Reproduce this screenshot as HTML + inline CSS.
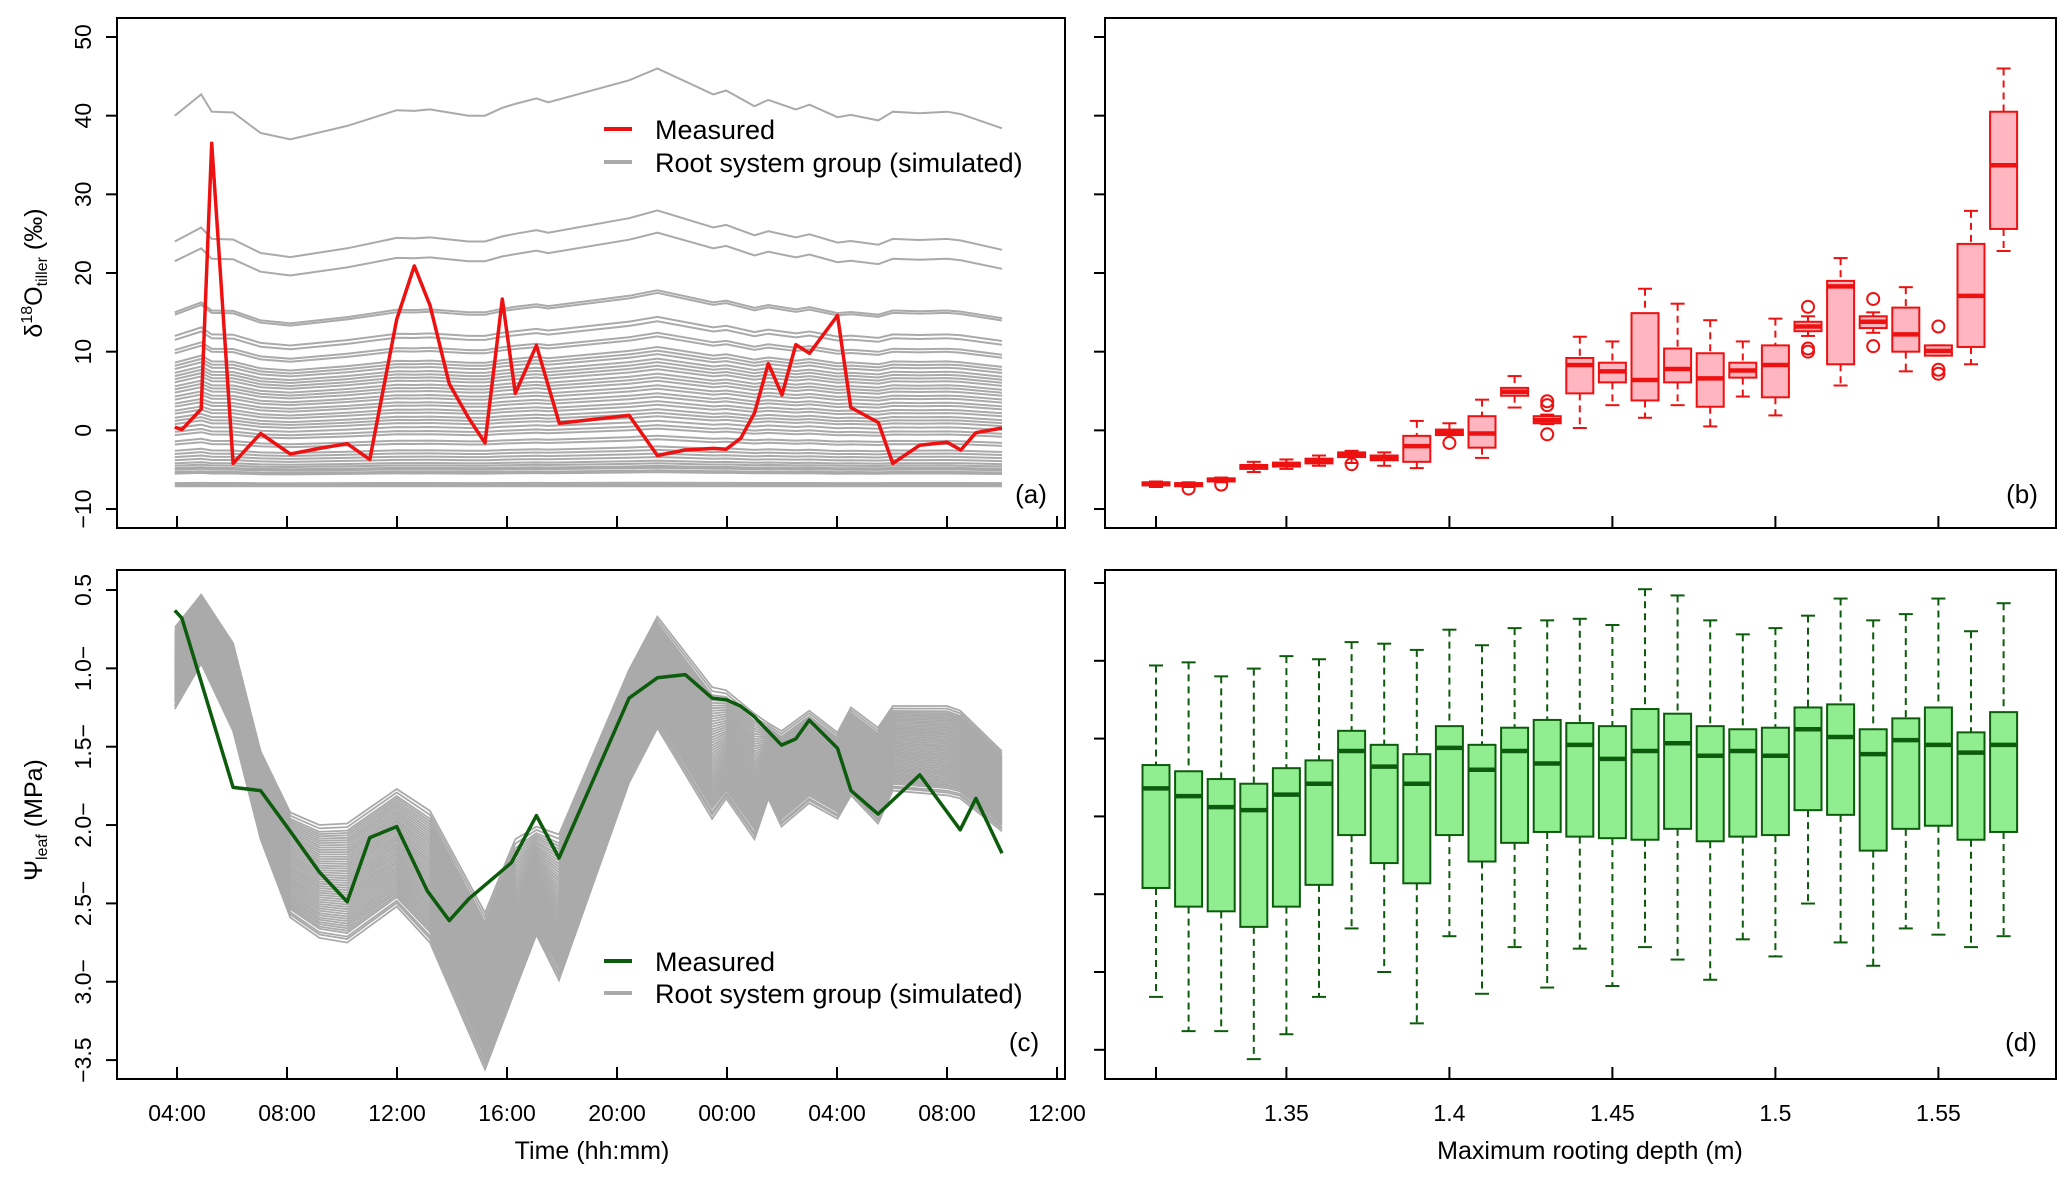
<!DOCTYPE html>
<html><head><meta charset="utf-8"><style>
html,body{margin:0;padding:0;background:#fff;}
svg{display:block;font-family:"Liberation Sans",Arial,sans-serif;}
</style></head><body>
<svg id="fig" width="2067" height="1181" viewBox="0 0 2067 1181" xmlns="http://www.w3.org/2000/svg">
<g id="pa"></g>
<g id="pb"></g>
<g id="pc"></g>
<g id="pd"></g>
</svg>
<script>
// ---------- Panel (a) data ----------
const aMeasHours=[-0.08,0.18,0.88,1.26,2.04,3.04,4.12,5.18,6.19,7.01,7.99,8.63,9.2,9.9,10.6,11.2,11.83,12.3,13.07,13.9,16.44,17.47,18.48,19.5,19.97,20.5,21.0,21.5,22.0,22.5,23.0,24.02,24.5,25.5,26.03,27.0,28.0,28.5,29.05,30.0];
const aMeasVals=[0.4,0.1,2.7,36.5,-4.2,-0.4,-3.0,-2.3,-1.7,-3.7,14.1,20.9,15.9,5.9,1.6,-1.6,16.7,4.7,10.8,0.9,1.9,-3.2,-2.5,-2.3,-2.4,-1.0,2.2,8.5,4.5,10.9,9.8,14.6,2.9,1.0,-4.2,-1.9,-1.5,-2.5,-0.3,0.3];
const aBaseHours=[-0.08,0.88,1.26,2.04,3.04,4.12,6.19,7.99,8.63,9.2,10.6,11.2,11.83,12.3,13.07,13.5,16.44,17.47,19.5,19.97,21.0,21.5,22.5,23.0,24.02,24.5,25.5,26.03,27.0,28.0,28.5,30.0];
const aBaseVals=[40,42.7,40.5,40.4,37.8,37.0,38.7,40.7,40.6,40.8,40,40,41,41.5,42.2,41.7,44.5,46,42.7,43.2,41.2,42,40.8,41.4,39.8,40.1,39.4,40.5,40.3,40.5,40.2,38.4];
const aSimStarts=[40,24,21.5,15,14.7,12,11.5,10.2,9.8,8.6,8.2,7.8,7.3,6.9,6.5,6.1,5.6,5.2,4.8,4.3,3.9,3.4,3.0,2.5,2.1,1.6,1.2,0.8,0.3,-0.2,-0.6,-1.4,-1.8,-2.6,-3.0,-3.4,-3.8,-4.2,-4.5,-4.8,-5.0,-5.3,-5.5,-6.7,-6.9,-7.1];
const aYTicks=[-10,0,10,20,30,40,50];
const aYLabels=["\u221210","0","10","20","30","40","50"];
const xTickHours=[0,4,8,12,16,20,24,28,32];
const xTickLabels=["04:00","08:00","12:00","16:00","20:00","00:00","04:00","08:00","12:00"];

// ---------- Panel (b) data ----------
const bDepths=[1.31,1.32,1.33,1.34,1.35,1.36,1.37,1.38,1.39,1.40,1.41,1.42,1.43,1.44,1.45,1.46,1.47,1.48,1.49,1.50,1.51,1.52,1.53,1.54,1.55,1.56,1.57];
const bWhiskLow=[-7.2,-7.2,-6.6,-5.3,-4.9,-4.5,-4.15,-4.5,-4.8,-0.6,-3.5,2.9,0.8,0.3,3.2,1.6,3.2,0.5,4.3,1.9,12.0,5.7,12.4,7.5,9.5,8.4,22.8];
const bQ1=[-7.0,-7.1,-6.5,-4.9,-4.6,-4.2,-3.4,-3.8,-4.0,-0.6,-2.2,4.4,0.9,4.7,6.1,3.8,6.1,3.0,6.7,4.2,12.6,8.4,13.0,10.0,9.5,10.6,25.6];
const bMedian=[-6.8,-6.9,-6.3,-4.65,-4.4,-3.9,-3.1,-3.5,-2.0,-0.3,-0.4,4.9,1.3,8.3,7.5,6.4,7.8,6.6,7.6,8.3,13.2,18.3,13.8,12.2,10.1,17.1,33.7];
const bQ3=[-6.6,-6.7,-6.1,-4.4,-4.1,-3.6,-2.8,-3.2,-0.7,0.1,1.8,5.4,1.8,9.2,8.6,14.9,10.4,9.8,8.6,10.8,13.8,19.0,14.5,15.6,10.8,23.7,40.5];
const bWhiskHigh=[-6.5,-6.6,-6.0,-4.0,-3.7,-3.2,-2.6,-2.8,1.2,0.9,3.9,6.9,2.0,11.9,11.3,18.0,16.1,14.0,11.3,14.2,14.5,21.9,15.0,18.2,10.8,27.9,46.0];
const bOutlierDepth=[1.32,1.33,1.37,1.40,1.43,1.43,1.43,1.51,1.51,1.51,1.53,1.53,1.55,1.55,1.55];
const bOutlierVal=[-7.4,-6.9,-4.3,-1.6,-0.5,3.2,3.7,15.7,10.4,10.0,16.7,10.7,13.2,7.7,7.2];
const depthTicks=[1.31,1.35,1.40,1.45,1.50,1.55];
const depthLabels=["","1.35","1.4","1.45","1.5","1.55"];

// ---------- Panel (c) data ----------
const cMeasHours=[-0.08,0.18,2.04,3.04,4.12,5.18,6.19,7.01,7.99,9.1,9.9,10.62,12.16,13.07,13.89,16.44,17.47,18.48,19.46,19.97,20.49,21.0,21.98,22.5,22.99,24.02,24.51,25.49,27.01,28.48,29.05,30.0];
const cMeasVals=[-0.63,-0.68,-1.76,-1.78,-2.04,-2.30,-2.49,-2.08,-2.01,-2.42,-2.61,-2.47,-2.24,-1.94,-2.21,-1.19,-1.06,-1.04,-1.19,-1.20,-1.24,-1.31,-1.49,-1.45,-1.33,-1.51,-1.78,-1.93,-1.68,-2.03,-1.83,-2.18];
const cSimHours=[-0.08,0.88,2.04,3.04,4.12,5.18,6.19,7.99,9.2,11.2,12.3,13.07,13.89,16.44,17.47,19.46,19.97,21.0,21.5,21.98,22.99,24.02,24.51,25.49,26.03,28.0,28.48,30.0];
const cSimUpper=[-0.74,-0.53,-0.84,-1.53,-1.92,-2.00,-1.99,-1.77,-1.91,-2.56,-2.09,-2.01,-2.06,-1.01,-0.67,-1.12,-1.14,-1.29,-1.35,-1.40,-1.27,-1.41,-1.25,-1.38,-1.24,-1.24,-1.27,-1.53];
const cSimLower=[-1.26,-0.97,-1.40,-2.09,-2.59,-2.72,-2.75,-2.52,-2.75,-3.56,-3.05,-2.70,-2.99,-1.73,-1.38,-1.96,-1.83,-2.09,-1.83,-2.01,-1.86,-1.96,-1.81,-1.99,-1.78,-1.81,-1.83,-2.04];
const cSimFractions=[0,0.03,0.06,0.08,0.1,0.12,0.14,0.16,0.18,0.2,0.22,0.24,0.26,0.28,0.3,0.32,0.34,0.36,0.38,0.4,0.42,0.44,0.46,0.48,0.5,0.52,0.54,0.56,0.58,0.6,0.62,0.64,0.66,0.68,0.7,0.72,0.74,0.76,0.78,0.8,0.82,0.84,0.86,0.88,0.9,0.92,0.95,0.97,1];
const cYTicks=[-0.5,-1.0,-1.5,-2.0,-2.5,-3.0,-3.5];
const cYLabels=["0.5","1.0\u2212","1.5\u2212","2.0\u2212","2.5\u2212","3.0\u2212","\u22123.5"];

// ---------- Panel (d) data ----------
const dWhiskHigh=[-1.03,-1.01,-1.10,-1.05,-0.97,-0.99,-0.88,-0.89,-0.93,-0.80,-0.90,-0.79,-0.74,-0.73,-0.77,-0.54,-0.58,-0.74,-0.83,-0.79,-0.71,-0.60,-0.74,-0.70,-0.60,-0.81,-0.63];
const dQ3=[-1.67,-1.71,-1.76,-1.79,-1.69,-1.64,-1.45,-1.54,-1.60,-1.42,-1.54,-1.43,-1.38,-1.40,-1.42,-1.31,-1.34,-1.42,-1.44,-1.43,-1.30,-1.28,-1.44,-1.37,-1.30,-1.46,-1.33];
const dMedian=[-1.82,-1.87,-1.94,-1.96,-1.86,-1.79,-1.58,-1.68,-1.79,-1.56,-1.70,-1.58,-1.66,-1.54,-1.63,-1.58,-1.53,-1.61,-1.58,-1.61,-1.44,-1.49,-1.60,-1.51,-1.54,-1.59,-1.54];
const dQ1=[-2.46,-2.58,-2.61,-2.71,-2.58,-2.44,-2.12,-2.30,-2.43,-2.12,-2.29,-2.17,-2.10,-2.13,-2.14,-2.15,-2.08,-2.16,-2.13,-2.12,-1.96,-1.99,-2.22,-2.08,-2.06,-2.15,-2.10];
const dWhiskLow=[-3.16,-3.38,-3.38,-3.56,-3.40,-3.16,-2.72,-3.00,-3.33,-2.77,-3.14,-2.84,-3.10,-2.85,-3.09,-2.84,-2.92,-3.05,-2.79,-2.90,-2.56,-2.81,-2.96,-2.72,-2.76,-2.84,-2.77];

// ---------- scales ----------
const xT=h=>177+h*27.5;
const yA=v=>37+(50-v)*7.867;
const yC=v=>590+(-0.5-v)*156.7;
const xD=d=>1156+(d-1.31)*3260;
const yD=v=>583+(-0.5-v)*155.6;

const NS="http://www.w3.org/2000/svg";
function mk(tag,parent,attrs){const e=document.createElementNS(NS,tag);for(const k in attrs)e.setAttribute(k,attrs[k]);parent.appendChild(e);return e;}
function pts(xs,ys,fx,fy){return xs.map((x,i)=>fx(x).toFixed(1)+","+fy(ys[i]).toFixed(1)).join(" ");}

function frame(g,x0,y0,x1,y1){
  const r=mk('rect',g,{x:x0,y:y0,width:x1-x0,height:y1-y0,fill:'none',stroke:'#000','stroke-width':2});
  
  
}
function yTicks(g,x0,vals,fy,labels){
  vals.forEach((v,i)=>{
    const l=mk('line',g,{x1:x0-11,x2:x0,y1:fy(v),y2:fy(v),stroke:'#000','stroke-width':2});
    
    
    if(labels){
      const t=mk('text',g,{x:0,y:0,'font-size':23,'text-anchor':'middle',transform:`translate(91,${fy(v)}) rotate(-90)`});
      t.textContent=labels[i];
      
      
    }
  });
}
function xTicks(g,vals,fx,ybot,labels){
  vals.forEach((v,i)=>{
    const l=mk('line',g,{x1:fx(v),x2:fx(v),y1:ybot-12,y2:ybot,stroke:'#000','stroke-width':2});
    
    
    if(labels&&labels[i]){
      const t=mk('text',g,{x:fx(v),y:1121,'font-size':23,'text-anchor':'middle'});
      t.textContent=labels[i];
      
      
    }
  });
}
function txt(g,x,y,s,size,anchor,name){const t=mk('text',g,{x:x,y:y,'font-size':size,'text-anchor':anchor||'start'});t.textContent=s;return t;}

// ---------- Panel (a) ----------
const pa=document.getElementById('pa');
aSimStarts.forEach(s=>{
  const f=(s+7)/47;
  const vals=aBaseVals.map(b=>-7+(b+7)*f);
  const p=mk('polyline',pa,{points:pts(aBaseHours,vals,xT,yA),fill:'none',stroke:'#aaaaaa','stroke-width':2});
  
  
});
const aMeas=mk('polyline',pa,{points:pts(aMeasHours,aMeasVals,xT,yA),fill:'none',stroke:'#ee1111','stroke-width':3.5,'stroke-linejoin':'round'});


frame(pa,117,18,1065,528);
yTicks(pa,117,aYTicks,yA,aYLabels);
xTicks(pa,xTickHours,xT,528,null);
const aTitle=mk('text',pa,{'font-size':25,'text-anchor':'middle',transform:'translate(42,273) rotate(-90)'});


aTitle.innerHTML='δ<tspan font-size="16" dy="-10">18</tspan><tspan dy="10">O</tspan><tspan font-size="16" dy="5">tiller</tspan><tspan dy="-5"> (‰)</tspan>';
const la=mk('g',pa,{});
mk('line',la,{x1:604,x2:632,y1:129,y2:129,stroke:'#ee1111','stroke-width':4});
txt(la,655,139,'Measured',27,'start','legend-measured');
mk('line',la,{x1:604,x2:632,y1:162,y2:162,stroke:'#aaaaaa','stroke-width':4});
txt(la,655,172,'Root system group (simulated)',27,'start','legend-simulated');
txt(pa,1031,503,'(a)',26,'middle','panel-label-a');

// ---------- Panel (b) ----------
const pb=document.getElementById('pb');
const bw=27;
bDepths.forEach((d,i)=>{
  const g=mk('g',pb,{});
  
  
  const x=xD(d);
  mk('line',g,{x1:x,x2:x,y1:yA(bWhiskHigh[i]),y2:yA(bQ3[i]),stroke:'#ee1111','stroke-width':2,'stroke-dasharray':'7,5'});
  mk('line',g,{x1:x,x2:x,y1:yA(bQ1[i]),y2:yA(bWhiskLow[i]),stroke:'#ee1111','stroke-width':2,'stroke-dasharray':'7,5'});
  mk('line',g,{x1:x-7,x2:x+7,y1:yA(bWhiskHigh[i]),y2:yA(bWhiskHigh[i]),stroke:'#ee1111','stroke-width':2});
  mk('line',g,{x1:x-7,x2:x+7,y1:yA(bWhiskLow[i]),y2:yA(bWhiskLow[i]),stroke:'#ee1111','stroke-width':2});
  mk('rect',g,{x:x-bw/2,y:yA(bQ3[i]),width:bw,height:Math.max(1,yA(bQ1[i])-yA(bQ3[i])),fill:'#ffb6c1',stroke:'#ee1111','stroke-width':2});
  mk('line',g,{x1:x-bw/2,x2:x+bw/2,y1:yA(bMedian[i]),y2:yA(bMedian[i]),stroke:'#ee1111','stroke-width':4.5});
});
bOutlierDepth.forEach((d,i)=>{
  const c=mk('circle',pb,{cx:xD(d),cy:yA(bOutlierVal[i]),r:6,fill:'none',stroke:'#ee1111','stroke-width':2});
  
  
});
frame(pb,1105,18,2056,528);
aYTicks.forEach(v=>{const l=mk('line',pb,{x1:1094,x2:1105,y1:yA(v),y2:yA(v),stroke:'#000','stroke-width':2});});
xTicks(pb,depthTicks,xD,528,null);
txt(pb,2022,503,'(b)',26,'middle','panel-label-b');

// ---------- Panel (c) ----------
const pc=document.getElementById('pc');
cSimFractions.forEach(f=>{
  const vals=cSimUpper.map((u,i)=>u+(cSimLower[i]-u)*f);
  const p=mk('polyline',pc,{points:pts(cSimHours,vals,xT,yC),fill:'none',stroke:'#aaaaaa','stroke-width':1.8});
  
  
});
const cMeas=mk('polyline',pc,{points:pts(cMeasHours,cMeasVals,xT,yC),fill:'none',stroke:'#0d5c0d','stroke-width':3.5,'stroke-linejoin':'round'});


frame(pc,117,570,1065,1079);
yTicks(pc,117,cYTicks,yC,cYLabels);
xTicks(pc,xTickHours,xT,1079,xTickLabels);
txt(pc,592,1159,'Time (hh:mm)',25,'middle','x-axis-title-c');
const cTitle=mk('text',pc,{'font-size':25,'text-anchor':'middle',transform:'translate(42,820) rotate(-90)'});


cTitle.innerHTML='Ψ<tspan font-size="16" dy="5">leaf</tspan><tspan dy="-5"> (MPa)</tspan>';
const lc=mk('g',pc,{});
mk('line',lc,{x1:604,x2:632,y1:961,y2:961,stroke:'#0d5c0d','stroke-width':4});
txt(lc,655,971,'Measured',27,'start','legend-measured');
mk('line',lc,{x1:604,x2:632,y1:993,y2:993,stroke:'#aaaaaa','stroke-width':4});
txt(lc,655,1003,'Root system group (simulated)',27,'start','legend-simulated');
txt(pc,1024,1051,'(c)',26,'middle','panel-label-c');

// ---------- Panel (d) ----------
const pd=document.getElementById('pd');
bDepths.forEach((d,i)=>{
  const g=mk('g',pd,{});
  
  
  const x=xD(d);
  mk('line',g,{x1:x,x2:x,y1:yD(dWhiskHigh[i]),y2:yD(dQ3[i]),stroke:'#0d5c0d','stroke-width':2,'stroke-dasharray':'7,5'});
  mk('line',g,{x1:x,x2:x,y1:yD(dQ1[i]),y2:yD(dWhiskLow[i]),stroke:'#0d5c0d','stroke-width':2,'stroke-dasharray':'7,5'});
  mk('line',g,{x1:x-7,x2:x+7,y1:yD(dWhiskHigh[i]),y2:yD(dWhiskHigh[i]),stroke:'#0d5c0d','stroke-width':2});
  mk('line',g,{x1:x-7,x2:x+7,y1:yD(dWhiskLow[i]),y2:yD(dWhiskLow[i]),stroke:'#0d5c0d','stroke-width':2});
  mk('rect',g,{x:x-bw/2,y:yD(dQ3[i]),width:bw,height:yD(dQ1[i])-yD(dQ3[i]),fill:'#90ee90',stroke:'#0d5c0d','stroke-width':2});
  mk('line',g,{x1:x-bw/2,x2:x+bw/2,y1:yD(dMedian[i]),y2:yD(dMedian[i]),stroke:'#0d5c0d','stroke-width':4.5});
});
frame(pd,1105,570,2056,1079);
cYTicks.forEach(v=>{const l=mk('line',pd,{x1:1094,x2:1105,y1:yD(v),y2:yD(v),stroke:'#000','stroke-width':2});});
xTicks(pd,depthTicks,xD,1079,depthLabels);
txt(pd,1590,1159,'Maximum rooting depth (m)',25,'middle','x-axis-title-d');
txt(pd,2021,1051,'(d)',26,'middle','panel-label-d');
</script>
</body></html>
